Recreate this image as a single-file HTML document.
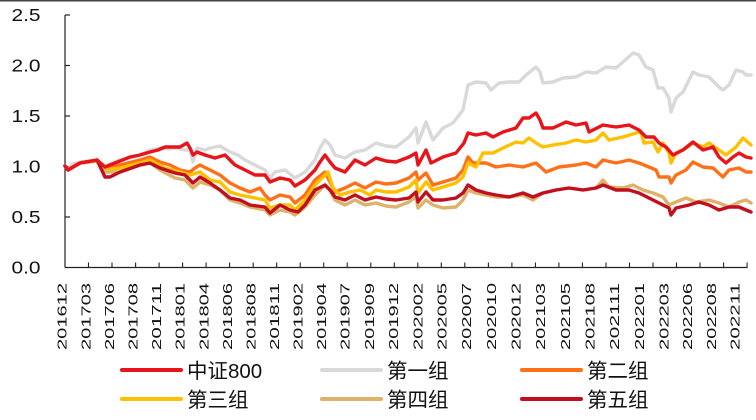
<!DOCTYPE html>
<html><head><meta charset="utf-8"><style>
html,body{margin:0;padding:0;background:#fff;}
svg{display:block;}
</style></head><body>
<svg width="756" height="420" viewBox="0 0 756 420" xmlns="http://www.w3.org/2000/svg">
<rect width="756" height="420" fill="#fff"/>
<line x1="0" y1="0.7" x2="756" y2="0.7" stroke="#444" stroke-width="1.6"/>
<!-- axes -->
<g stroke="#222" stroke-width="1.2" fill="none">
<line x1="65" y1="15" x2="65" y2="267.5"/>
<line x1="65" y1="267.5" x2="747.5" y2="267.5"/>
<line x1="65" y1="15" x2="70" y2="15"/>
<line x1="65" y1="65.5" x2="70" y2="65.5"/>
<line x1="65" y1="116" x2="70" y2="116"/>
<line x1="65" y1="166.5" x2="70" y2="166.5"/>
<line x1="65" y1="217" x2="70" y2="217"/>
</g>
<g stroke="#222" stroke-width="1.1">
<line x1="88.5" y1="262.5" x2="88.5" y2="267.5"/><line x1="112" y1="262.5" x2="112" y2="267.5"/><line x1="135.6" y1="262.5" x2="135.6" y2="267.5"/><line x1="159.1" y1="262.5" x2="159.1" y2="267.5"/><line x1="182.6" y1="262.5" x2="182.6" y2="267.5"/><line x1="206.1" y1="262.5" x2="206.1" y2="267.5"/><line x1="229.6" y1="262.5" x2="229.6" y2="267.5"/><line x1="253.2" y1="262.5" x2="253.2" y2="267.5"/><line x1="276.7" y1="262.5" x2="276.7" y2="267.5"/><line x1="300.2" y1="262.5" x2="300.2" y2="267.5"/><line x1="323.7" y1="262.5" x2="323.7" y2="267.5"/><line x1="347.2" y1="262.5" x2="347.2" y2="267.5"/><line x1="370.8" y1="262.5" x2="370.8" y2="267.5"/><line x1="394.3" y1="262.5" x2="394.3" y2="267.5"/><line x1="417.8" y1="262.5" x2="417.8" y2="267.5"/><line x1="441.3" y1="262.5" x2="441.3" y2="267.5"/><line x1="464.8" y1="262.5" x2="464.8" y2="267.5"/><line x1="488.4" y1="262.5" x2="488.4" y2="267.5"/><line x1="511.9" y1="262.5" x2="511.9" y2="267.5"/><line x1="535.4" y1="262.5" x2="535.4" y2="267.5"/><line x1="558.9" y1="262.5" x2="558.9" y2="267.5"/><line x1="582.4" y1="262.5" x2="582.4" y2="267.5"/><line x1="606" y1="262.5" x2="606" y2="267.5"/><line x1="629.5" y1="262.5" x2="629.5" y2="267.5"/><line x1="653" y1="262.5" x2="653" y2="267.5"/><line x1="676.5" y1="262.5" x2="676.5" y2="267.5"/><line x1="700" y1="262.5" x2="700" y2="267.5"/><line x1="723.6" y1="262.5" x2="723.6" y2="267.5"/><line x1="747.1" y1="262.5" x2="747.1" y2="267.5"/>
</g>
<!-- y labels -->
<g font-family="'Liberation Sans', sans-serif" font-size="17.5" fill="#111">
<text x="11.5" y="21.2" textLength="29" lengthAdjust="spacingAndGlyphs">2.5</text>
<text x="11.5" y="71.7" textLength="29" lengthAdjust="spacingAndGlyphs">2.0</text>
<text x="11.5" y="122.2" textLength="29" lengthAdjust="spacingAndGlyphs">1.5</text>
<text x="11.5" y="172.7" textLength="29" lengthAdjust="spacingAndGlyphs">1.0</text>
<text x="11.5" y="223.2" textLength="29" lengthAdjust="spacingAndGlyphs">0.5</text>
<text x="11.5" y="273.7" textLength="29" lengthAdjust="spacingAndGlyphs">0.0</text>
</g>
<!-- x labels -->
<g font-family="'Liberation Sans', sans-serif" font-size="13" fill="#111" text-anchor="end">
<text transform="translate(66.6,283) rotate(-90)" textLength="67" lengthAdjust="spacingAndGlyphs">201612</text>
<text transform="translate(90.3,283) rotate(-90)" textLength="67" lengthAdjust="spacingAndGlyphs">201703</text>
<text transform="translate(113.9,283) rotate(-90)" textLength="67" lengthAdjust="spacingAndGlyphs">201706</text>
<text transform="translate(137.6,283) rotate(-90)" textLength="67" lengthAdjust="spacingAndGlyphs">201708</text>
<text transform="translate(161.2,283) rotate(-90)" textLength="67" lengthAdjust="spacingAndGlyphs">201711</text>
<text transform="translate(184.7,283) rotate(-90)" textLength="67" lengthAdjust="spacingAndGlyphs">201801</text>
<text transform="translate(208.3,283) rotate(-90)" textLength="67" lengthAdjust="spacingAndGlyphs">201804</text>
<text transform="translate(231.8,283) rotate(-90)" textLength="67" lengthAdjust="spacingAndGlyphs">201806</text>
<text transform="translate(255.4,283) rotate(-90)" textLength="67" lengthAdjust="spacingAndGlyphs">201808</text>
<text transform="translate(278.9,283) rotate(-90)" textLength="67" lengthAdjust="spacingAndGlyphs">201811</text>
<text transform="translate(302.5,283) rotate(-90)" textLength="67" lengthAdjust="spacingAndGlyphs">201902</text>
<text transform="translate(326,283) rotate(-90)" textLength="67" lengthAdjust="spacingAndGlyphs">201904</text>
<text transform="translate(349.6,283) rotate(-90)" textLength="67" lengthAdjust="spacingAndGlyphs">201907</text>
<text transform="translate(373.9,283) rotate(-90)" textLength="67" lengthAdjust="spacingAndGlyphs">201909</text>
<text transform="translate(398.1,283) rotate(-90)" textLength="67" lengthAdjust="spacingAndGlyphs">201912</text>
<text transform="translate(422.4,283) rotate(-90)" textLength="67" lengthAdjust="spacingAndGlyphs">202002</text>
<text transform="translate(446.6,283) rotate(-90)" textLength="67" lengthAdjust="spacingAndGlyphs">202005</text>
<text transform="translate(471.2,283) rotate(-90)" textLength="67" lengthAdjust="spacingAndGlyphs">202007</text>
<text transform="translate(495.9,283) rotate(-90)" textLength="67" lengthAdjust="spacingAndGlyphs">202010</text>
<text transform="translate(520.5,283) rotate(-90)" textLength="67" lengthAdjust="spacingAndGlyphs">202012</text>
<text transform="translate(545.2,283) rotate(-90)" textLength="67" lengthAdjust="spacingAndGlyphs">202103</text>
<text transform="translate(569.8,283) rotate(-90)" textLength="67" lengthAdjust="spacingAndGlyphs">202105</text>
<text transform="translate(594.5,283) rotate(-90)" textLength="67" lengthAdjust="spacingAndGlyphs">202108</text>
<text transform="translate(619.1,283) rotate(-90)" textLength="67" lengthAdjust="spacingAndGlyphs">202111</text>
<text transform="translate(643.8,283) rotate(-90)" textLength="67" lengthAdjust="spacingAndGlyphs">202201</text>
<text transform="translate(668.4,283) rotate(-90)" textLength="67" lengthAdjust="spacingAndGlyphs">202203</text>
<text transform="translate(692.1,283) rotate(-90)" textLength="67" lengthAdjust="spacingAndGlyphs">202206</text>
<text transform="translate(715.9,283) rotate(-90)" textLength="67" lengthAdjust="spacingAndGlyphs">202208</text>
<text transform="translate(739.6,283) rotate(-90)" textLength="67" lengthAdjust="spacingAndGlyphs">202211</text>
</g>
<!-- series -->
<g fill="none" stroke-width="3.4" stroke-linejoin="round" stroke-linecap="round">
<polyline stroke="#D9D9D9" points="65,166 68,170 72,164 80,162 90,161 97,160 102,164 105,166 112,163 120,160 130,158 140,155 150,150 160,148 168,149 175,148 185,150 190,150 193,162 197,148 205,150 210,148 220,146 230,152 238,155 245,160 255,165 265,170 270,178 275,172 285,170 295,178 305,172 315,160 320,148 325,140 330,145 335,155 345,158 355,152 365,150 376,143 386,146 396,147 409,137 416,128 418,143 426,122 433,140 443,128 453,123 463,110 466,95 468,85 476,82 486,83 491,90 499,83 509,82 519,82 526,75 536,67 540,72 543,83 553,82 563,78 576,77 586,72 596,73 606,67 616,68 623,62 633,53 639,55 646,67 653,70 658,88 663,88 669,98 671,112 676,98 683,92 693,72 699,75 709,77 719,87 723,90 729,85 736,70 743,72 746,75 751,75"/>
<polyline stroke="#FF7119" points="65,166 68,170 80,163 97,160 105,168 120,165 140,160 150,157 160,162 170,165 180,170 190,172 195,168 200,165 210,170 220,175 230,183 240,188 250,192 260,188 265,195 270,200 280,195 290,197 295,203 305,195 315,180 325,172 330,182 335,192 345,188 355,183 365,188 376,182 386,184 396,183 409,178 416,172 418,180 426,173 433,185 443,182 456,178 463,170 468,157 473,163 486,163 496,167 509,165 523,167 536,163 546,172 559,167 576,165 586,163 596,167 603,160 616,163 629,160 639,163 649,167 656,170 659,177 669,177 671,183 676,175 686,170 693,162 703,167 713,168 723,177 729,170 739,168 746,172 751,172"/>
<polyline stroke="#FFC000" points="65,166 68,170 80,163 97,161 105,170 120,168 140,163 150,160 165,168 180,172 190,175 200,172 210,180 220,182 230,192 240,195 250,197 265,200 270,208 280,205 290,205 295,210 305,200 315,185 325,175 328,172 333,188 340,195 350,192 360,190 370,195 376,190 386,192 396,192 409,187 416,180 418,193 426,182 433,190 443,187 456,183 463,177 468,163 476,167 483,153 493,153 503,148 516,142 523,143 529,138 536,143 543,147 553,145 566,143 576,140 586,142 596,140 603,133 609,140 623,137 636,133 641,132 644,143 653,142 658,152 663,143 669,153 671,163 676,153 686,148 693,143 703,147 709,143 719,150 726,155 736,147 743,138 751,145"/>
<polyline stroke="#DDB26A" points="65,166 68,170 80,163 97,161 105,172 120,172 140,165 150,163 160,170 175,178 185,180 193,188 200,182 210,185 220,190 230,200 240,203 250,207 265,210 270,215 280,210 290,212 295,215 305,207 315,195 325,185 330,190 335,200 345,205 355,200 365,205 376,203 386,206 396,207 409,202 416,197 418,208 426,200 433,205 443,208 456,207 463,200 468,190 476,193 486,195 496,197 509,197 523,195 533,200 543,193 556,190 569,188 583,190 596,188 603,180 609,187 623,188 633,185 643,190 653,193 663,197 669,205 676,202 686,198 696,202 709,200 719,203 729,207 739,202 746,200 751,203"/>
<polyline stroke="#C00F1E" points="65,166 68,170 80,163 97,160 105,177 110,177 120,172 140,165 150,163 160,168 175,173 185,175 193,183 200,177 210,183 220,190 230,198 240,200 250,205 265,207 270,213 280,205 290,210 298,212 305,205 315,190 325,185 330,190 335,197 345,200 355,195 365,200 376,197 386,199 396,200 409,198 416,192 418,202 426,192 433,200 443,200 456,198 463,193 468,185 476,190 486,193 496,195 509,197 523,193 533,197 543,193 556,190 569,188 583,190 596,188 603,185 616,190 629,190 639,193 649,198 659,203 669,208 671,215 676,208 689,205 699,202 709,205 719,210 729,207 739,207 746,210 751,212"/>
<polyline stroke="#E8141B" points="65,166 68,170 80,163 97,160 105,167 110,165 120,161 130,157 140,155 150,152 158,150 165,147 180,147 187,143 190,148 193,155 197,152 205,155 215,158 225,155 235,165 245,170 255,175 265,175 270,182 280,178 290,180 295,186 305,180 315,170 320,162 325,155 330,162 335,168 345,172 355,160 365,165 376,158 386,161 396,162 409,157 416,153 418,165 426,150 431,163 443,157 456,153 464,143 468,133 476,135 486,133 493,137 503,132 516,128 523,118 529,118 536,113 540,120 543,128 553,128 566,122 576,125 586,123 589,132 603,125 616,127 629,125 639,130 646,137 654,137 659,143 666,147 673,155 683,150 693,142 703,150 713,147 719,157 726,163 733,157 739,153 746,157 751,158"/>
</g>
<!-- legend -->
<g stroke-width="4" stroke-linecap="round">
<line x1="122" y1="370" x2="181" y2="370" stroke="#E8141B"/>
<line x1="322" y1="370" x2="381" y2="370" stroke="#D9D9D9"/>
<line x1="522" y1="370" x2="581" y2="370" stroke="#FF7119"/>
<line x1="122" y1="399" x2="181" y2="399" stroke="#FFC000"/>
<line x1="322" y1="399" x2="381" y2="399" stroke="#DDB26A"/>
<line x1="522" y1="399" x2="581" y2="399" stroke="#C00F1E"/>
</g>
<g font-family="'Liberation Sans', 'Noto Sans CJK SC', sans-serif" font-size="20.5" fill="#111">
<text x="187" y="378">中证800</text>
<text x="387" y="378">第一组</text>
<text x="587" y="378">第二组</text>
<text x="187" y="407">第三组</text>
<text x="387" y="407">第四组</text>
<text x="587" y="407">第五组</text>
</g>
</svg>
</body></html>
